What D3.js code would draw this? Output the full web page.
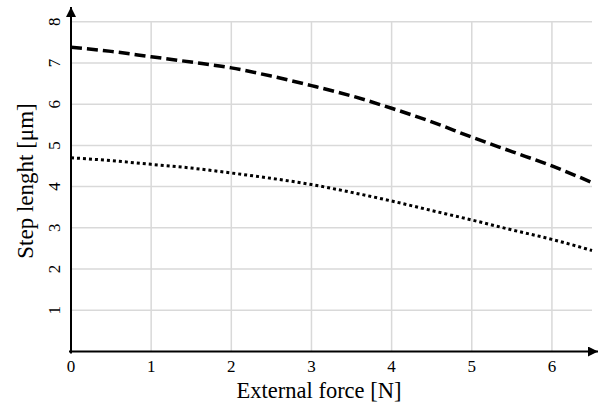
<!DOCTYPE html>
<html>
<head>
<meta charset="utf-8">
<script src="https://cdn.jsdelivr.net/npm/d3@7"></script>
<style>
  body { margin: 0; background: #fff; }
  text { font-family: "Liberation Serif", "Times New Roman", serif; fill: #000; }
</style>
</head>
<body>
<svg id="chart" width="600" height="410"></svg>
<script>
var forceN = [0, 0.5, 1, 1.5, 2, 2.5, 3, 3.5, 4, 4.5, 5, 5.5, 6, 6.5];
var stepDashed = [7.38, 7.28, 7.15, 7.02, 6.88, 6.68, 6.45, 6.2, 5.9, 5.57, 5.2, 4.85, 4.5, 4.1];
var stepDotted = [4.7, 4.63, 4.54, 4.45, 4.33, 4.2, 4.05, 3.86, 3.65, 3.42, 3.19, 2.95, 2.72, 2.45];
var xTicks = [0, 1, 2, 3, 4, 5, 6];
var yTicks = [1, 2, 3, 4, 5, 6, 7, 8];

var svg = d3.select('#chart');
var x = d3.scaleLinear().domain([0, 6.5]).range([71, 592]);
var y = d3.scaleLinear().domain([0, 8]).range([351.5, 21.7]);

// grid
var grid = svg.append('g').attr('class', 'grid');
grid.selectAll('line.v').data(xTicks.slice(1)).enter().append('line')
  .attr('x1', d => x(d)).attr('x2', d => x(d))
  .attr('y1', y(8)).attr('y2', y(0))
  .style('stroke', '#d9d9d9').style('stroke-width', 1.5);
grid.selectAll('line.h').data(yTicks).enter().append('line')
  .attr('x1', x(0)).attr('x2', x(6.5))
  .attr('y1', d => y(d)).attr('y2', d => y(d))
  .style('stroke', '#d9d9d9').style('stroke-width', 1.5);

// arrow marker
svg.append('defs').append('marker')
  .attr('id', 'arrow').attr('viewBox', '0 0 10 10')
  .attr('refX', 10).attr('refY', 5)
  .attr('markerWidth', 10).attr('markerHeight', 10)
  .attr('markerUnits', 'userSpaceOnUse')
  .attr('orient', 'auto')
  .append('path').attr('d', 'M0,0 L10,5 L0,10 z').style('fill', '#000');

// axes
svg.append('line')
  .attr('x1', x(0) - 2).attr('x2', 598)
  .attr('y1', y(0)).attr('y2', y(0))
  .style('stroke', '#000').style('stroke-width', 2)
  .attr('marker-end', 'url(#arrow)');
svg.append('line')
  .attr('x1', x(0)).attr('x2', x(0))
  .attr('y1', y(0) + 2).attr('y2', 7)
  .style('stroke', '#000').style('stroke-width', 2)
  .attr('marker-end', 'url(#arrow)');

// tick labels
svg.selectAll('text.xt').data(xTicks).enter().append('text')
  .attr('x', d => x(d)).attr('y', 372)
  .style('text-anchor', 'middle').style('font-size', '17px')
  .text(d => d);
svg.selectAll('text.yt').data(yTicks).enter().append('text')
  .attr('transform', d => 'translate(60,' + y(d) + ') rotate(-90)')
  .style('text-anchor', 'middle').style('font-size', '17px')
  .text(d => d);

// titles
svg.append('text').attr('x', 319).attr('y', 398)
  .style('text-anchor', 'middle').style('font-size', '22.5px')
  .text('External force [N]');
svg.append('text').attr('transform', 'translate(33,181) rotate(-90)')
  .style('text-anchor', 'middle').style('font-size', '23px')
  .text('Step lenght [μm]');

// lines
var line = d3.line().x((d, i) => x(forceN[i])).y(d => y(d)).curve(d3.curveMonotoneX);
svg.append('path').datum(stepDashed).attr('d', line)
  .style('fill', 'none').style('stroke', '#000').style('stroke-width', 3.5)
  .style('stroke-dasharray', '11,5');
svg.append('path').datum(stepDotted).attr('d', line)
  .style('fill', 'none').style('stroke', '#000').style('stroke-width', 3)
  .style('stroke-dasharray', '3,3');
</script>
</body>
</html>
